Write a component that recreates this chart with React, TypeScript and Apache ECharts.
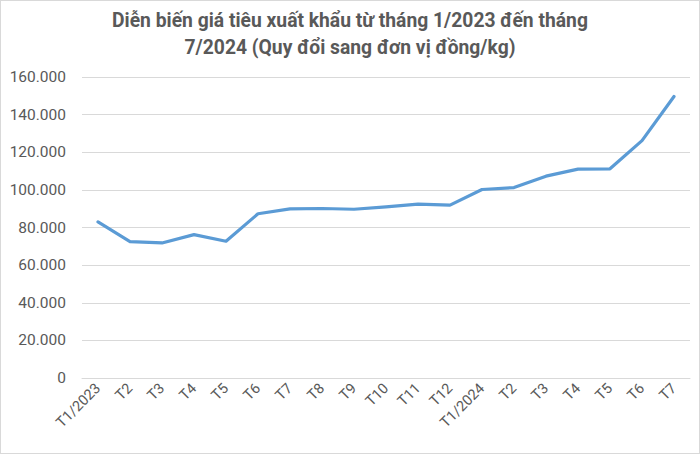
import React, { useEffect, useRef } from "react";
import * as echarts from "echarts";

const categories = ["T1/2023", "T2", "T3", "T4", "T5", "T6", "T7", "T8", "T9", "T10", "T11", "T12", "T1/2024", "T2", "T3", "T4", "T5", "T6", "T7"];
const prices = [83000, 72500, 71800, 76200, 72700, 87300, 89900, 90100, 89700, 91000, 92400, 91900, 100200, 101200, 107300, 111000, 111200, 126200, 149600];
const yTicks = { min: 0, max: 160000, interval: 20000 };
const titleText = "Diễn biến giá tiêu xuất khẩu từ tháng 1/2023 đến tháng\n7/2024 (Quy đổi sang đơn vị đồng/kg)";

const fmt = (v: number) => String(v).replace(/\B(?=(\d{3})+(?!\d))/g, ".");

export default function App() {
  const ref = useRef<HTMLDivElement>(null);
  useEffect(() => {
    document.body.style.margin = "0";
    const chart = echarts.init(ref.current!, null, { renderer: "svg" });
    chart.setOption({
      animation: false,
      backgroundColor: "#ffffff",
      title: {
        text: titleText,
        left: "center",
        top: 1,
        textStyle: {
          fontFamily: "Roboto",
          fontSize: 19.3,
          fontWeight: "bold",
          color: "#595959",
          lineHeight: 27,
        },
      },
      grid: { left: 81, right: 9, top: 76, bottom: 75, containLabel: false },
      xAxis: {
        type: "category",
        data: categories,
        boundaryGap: true,
        axisLine: { show: true, lineStyle: { color: "#d9d9d9", width: 1 } },
        axisTick: { show: false },
        axisLabel: {
          interval: 0,
          rotate: 45,
          margin: 8,
          color: "#595959",
          fontSize: 14.5,
          fontFamily: "Roboto",
        },
      },
      yAxis: {
        type: "value",
        min: yTicks.min,
        max: yTicks.max,
        interval: yTicks.interval,
        axisLine: { show: false },
        axisTick: { show: false },
        splitLine: { lineStyle: { color: "#d9d9d9", width: 1 } },
        axisLabel: {
          formatter: (v: number) => fmt(v),
          color: "#595959",
          fontSize: 15.5,
          fontFamily: "Roboto",
          margin: 16,
        },
      },
      series: [
        {
          type: "line",
          data: prices,
          symbol: "none",
          lineStyle: { color: "#5b9bd5", width: 3.2, cap: "round", join: "round" },
        },
      ],
    });
    return () => chart.dispose();
  }, []);
  return (
    <div
      ref={ref}
      style={{
        position: "absolute",
        left: 0,
        top: 0,
        width: 700,
        height: 454,
        boxSizing: "border-box",
        border: "1px solid #d9d9d9",
      }}
    />
  );
}
